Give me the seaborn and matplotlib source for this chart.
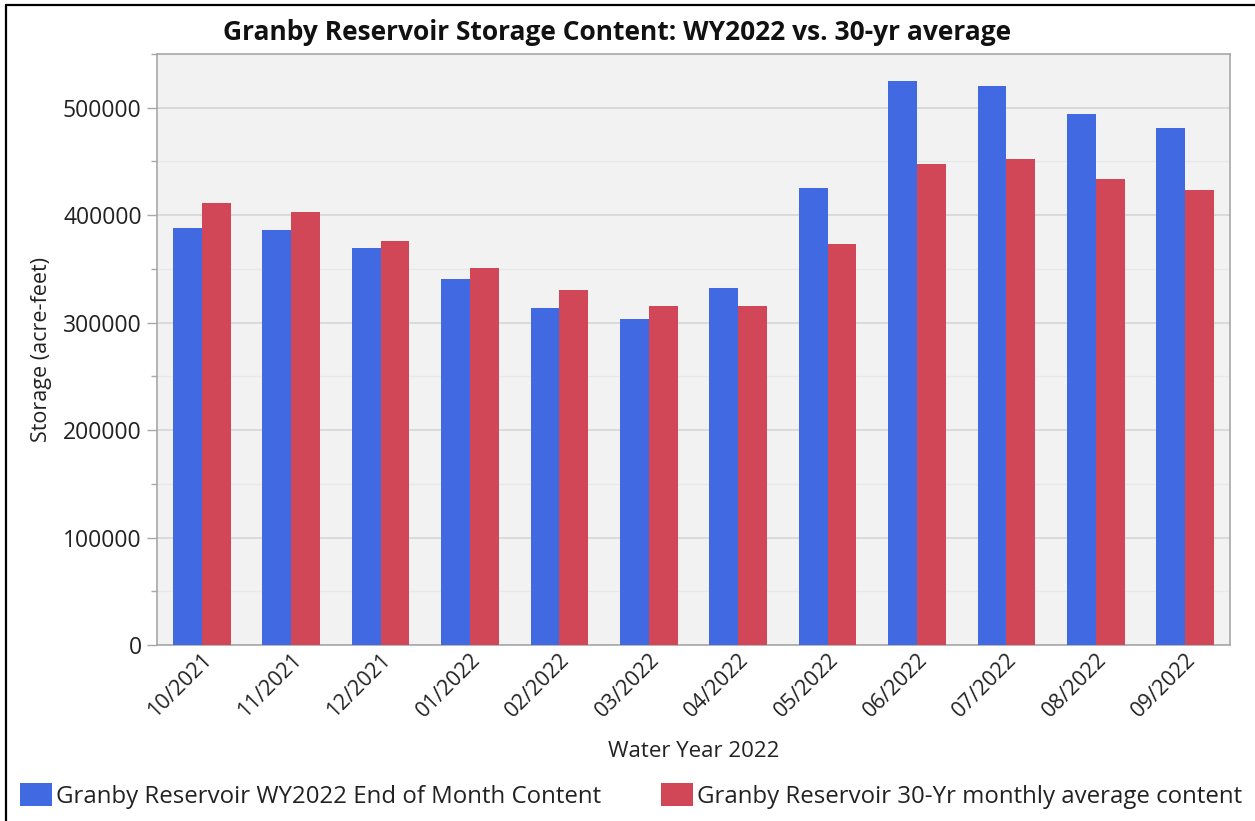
import matplotlib
matplotlib.use("Agg")
import matplotlib.pyplot as plt
from matplotlib.patches import Rectangle
from matplotlib.lines import Line2D
from matplotlib.ticker import MultipleLocator
import pandas as pd
import seaborn as sns

months = ["10/2021", "11/2021", "12/2021", "01/2022", "02/2022", "03/2022",
          "04/2022", "05/2022", "06/2022", "07/2022", "08/2022", "09/2022"]
wy2022 = [388000, 386500, 369000, 341000, 314000, 303000,
          332000, 425000, 524500, 520500, 494000, 481500]
avg30 = [411000, 402500, 376000, 351000, 330000, 315500,
         315500, 373000, 448000, 452000, 434000, 423500]

series_names = ["Granby Reservoir WY2022 End of Month Content",
                "Granby Reservoir 30-Yr monthly average content"]
colors = ["#4169E1", "#D14757"]

df = pd.DataFrame({
    "month": months * 2,
    "storage": wy2022 + avg30,
    "series": [series_names[0]] * len(months) + [series_names[1]] * len(months),
})

sns.set_style("white")
plt.rcParams["font.family"] = ["Open Sans", "DejaVu Sans"]

fig = plt.figure(figsize=(12.55, 8.21), dpi=100)
ax = fig.add_axes([157 / 1255, 1 - 645 / 821, (1230 - 157) / 1255, (645 - 54) / 821])
ax.set_facecolor("#F2F2F2")

sns.barplot(data=df, x="month", y="storage", hue="series", palette=colors,
            width=0.645, saturation=1, legend=False, ax=ax, zorder=3,
            edgecolor="none", linewidth=0)

ax.set_ylim(0, 550000)
ax.set_xlim(-0.5, 11.5)
ax.yaxis.set_major_locator(MultipleLocator(100000))
ax.yaxis.set_minor_locator(MultipleLocator(50000))
ax.grid(axis="y", which="major", color="#D6D6D6", linewidth=1.2, zorder=0)
ax.grid(axis="y", which="minor", color="#E8E8E8", linewidth=1.0, zorder=0)
ax.set_axisbelow(True)

for s in ax.spines.values():
    s.set_color("#A8A8A8")
    s.set_linewidth(1.2)

ax.tick_params(axis="y", which="major", length=7, width=1, color="#A8A8A8",
               labelsize=16.5, pad=4, left=True)
ax.tick_params(axis="y", which="minor", length=4, width=1, color="#A8A8A8", left=True)
ax.tick_params(axis="x", length=0, labelsize=15.5, pad=3)
plt.setp(ax.get_xticklabels(), rotation=45, ha="right", rotation_mode="anchor")
for lbl in ax.get_yticklabels() + ax.get_xticklabels():
    lbl.set_color("#222222")

ax.set_xlabel("Water Year 2022", fontsize=16, color="#222222", labelpad=14)
ax.set_ylabel("Storage (acre-feet)", fontsize=15.5, color="#222222", labelpad=8)

fig.text(617 / 1255, 1 - 33 / 821,
         "Granby Reservoir Storage Content: WY2022 vs. 30-yr average",
         ha="center", va="center", fontsize=19, fontweight="bold", color="#111111")

handles = [Rectangle((0, 0), 1, 1, facecolor=c, edgecolor="none") for c in colors]
fig.legend(handles, series_names, loc="center", ncol=2,
           bbox_to_anchor=(631 / 1255, 1 - 796 / 821), frameon=False,
           fontsize=17.3, handlelength=1.35, handleheight=1.05,
           handletextpad=0.15, columnspacing=2.5, labelcolor="#222222",
           borderaxespad=0, borderpad=0)

# left and top border of the original screenshot frame
fig.add_artist(Line2D([6 / 1255, 6 / 1255], [0, 1 - 5 / 821],
                      transform=fig.transFigure, color="black", linewidth=1.6))
fig.add_artist(Line2D([6 / 1255, 1], [1 - 5 / 821, 1 - 5 / 821],
                      transform=fig.transFigure, color="black", linewidth=1.6))

fig.savefig("out.png", dpi=100, facecolor="white")
